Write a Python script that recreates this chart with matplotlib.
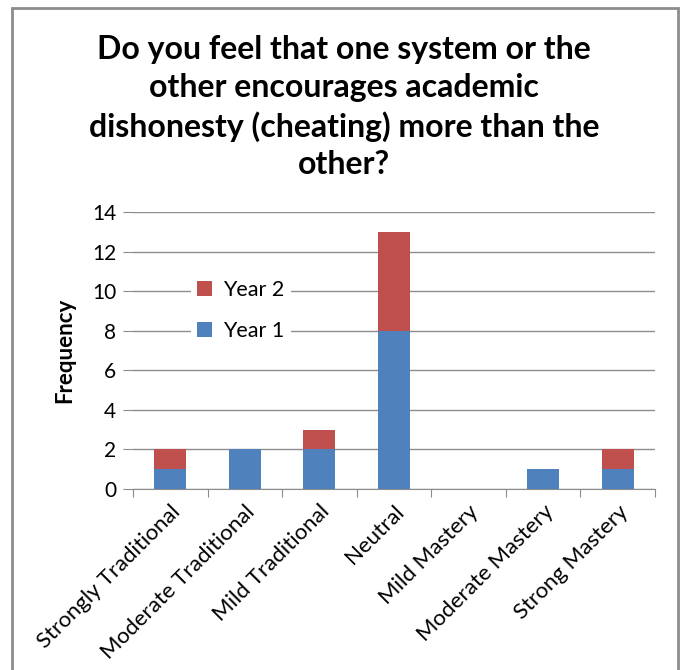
import matplotlib.pyplot as plt
import matplotlib.patches as mpatches
import numpy as np

categories = ['Strongly Traditional', 'Moderate Traditional', 'Mild Traditional',
              'Neutral', 'Mild Mastery', 'Moderate Mastery', 'Strong Mastery']
year1 = [1, 2, 2, 8, 0, 1, 1]
year2 = [1, 0, 1, 5, 0, 0, 1]

blue = '#4F81BD'
red = '#C0504D'
grid = '#8C8C8C'

plt.rcParams['font.family'] = ['Lato', 'DejaVu Sans']

fig = plt.figure(figsize=(6.88, 6.70), dpi=100)
ax = fig.add_axes([133/688, 1-489/670, (655-133)/688, (489-212)/670])

x = np.arange(len(categories))
b1 = ax.bar(x, year1, width=0.43, color=blue, label='Year 1', zorder=3)
b2 = ax.bar(x, year2, width=0.43, bottom=year1, color=red, label='Year 2', zorder=3)

ax.set_xlim(-0.5, 6.5)
ax.set_ylim(0, 14)
ax.set_yticks(range(0, 15, 2))
ax.yaxis.grid(True, color=grid, linewidth=1)
ax.set_axisbelow(True)
for s in ['top', 'right', 'left']:
    ax.spines[s].set_visible(False)
ax.spines['bottom'].set_color(grid)
ax.tick_params(axis='y', length=7, color=grid, labelsize=15, pad=5)

# category boundaries carry the tick marks, centres carry the labels
ax.set_xticks(np.arange(-0.5, 7, 1), minor=False)
ax.set_xticklabels([])
ax.tick_params(axis='x', which='major', length=6, color=grid, direction='out')
ax.set_xticks(x, minor=True)
ax.set_xticklabels(categories, minor=True, rotation=45, ha='right',
                   rotation_mode='anchor', fontsize=16)
ax.tick_params(axis='x', which='minor', length=0, pad=9)

ax.set_ylabel('Frequency', fontsize=16, fontweight='bold', labelpad=12)

ax.legend(handles=[b2, b1], loc='upper left', bbox_to_anchor=(0.09, 0.815),
          frameon=True, facecolor='white', edgecolor='none', framealpha=1,
          fontsize=15.5, handlelength=0.7, handleheight=0.7, labelspacing=0.95,
          handletextpad=0.5, borderpad=0.3)

fig.text(0.5, 0.84, 'Do you feel that one system or the\nother encourages academic\n'
         'dishonesty (cheating) more than the\nother?',
         ha='center', va='center', fontsize=23, fontweight='bold', linespacing=1.36)

fig.patches.append(mpatches.Rectangle((12/688, -0.02), (678-12)/688, 1-8/670+0.02,
                                      transform=fig.transFigure, fill=False,
                                      edgecolor='#8C8C8C', linewidth=2))

fig.savefig('out.png', dpi=100)
